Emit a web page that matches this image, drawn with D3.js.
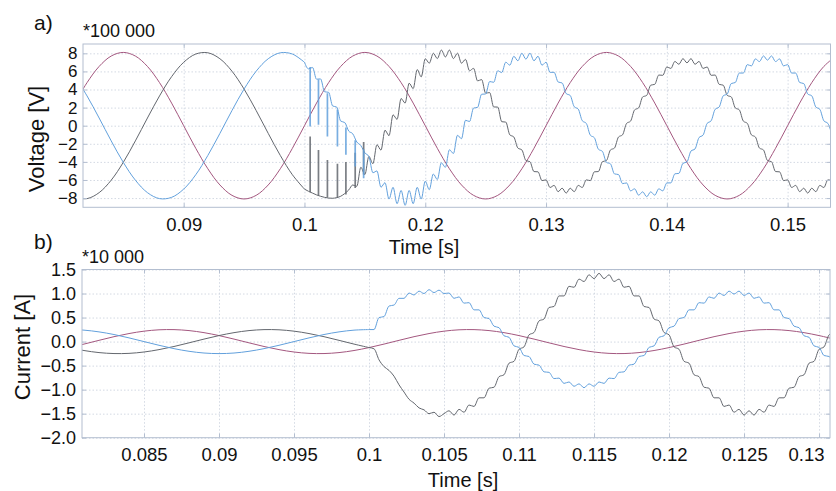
<!DOCTYPE html>
<html>
<head>
<meta charset="utf-8">
<script src="https://cdn.jsdelivr.net/npm/d3@7"></script>
<style>
body { margin: 0; background: #fff; }
svg { font-family: "Liberation Sans", Arial, sans-serif; }
</style>
</head>
<body>
<svg id="chart" width="836" height="491"></svg>
<script>
// ---- panel a) voltage, in units of 100 000 V ----
// smooth parts: sampled every 1 ms
var voltSmoothStart = 0.081, smoothStep = 0.001;
var voltMagenta = [
  2.50, 4.76, 6.55, 7.70, 8.10, 7.70, 6.55, 4.76, 2.50, 0,
  -2.50, -4.76, -6.55, -7.70, -8.10, -7.70, -6.55, -4.76, -2.50, 0,
  2.50, 4.76, 6.55, 7.70, 8.10, 7.70, 6.55, 4.76, 2.50, 0,
  -2.50, -4.76, -6.55, -7.70, -8.10, -7.70, -6.55, -4.76, -2.50, 0,
  2.50, 4.76, 6.55, 7.70, 8.10, 7.70, 6.55, 4.76, 2.50, 0,
  -2.50, -4.76, -6.55, -7.70, -8.10, -7.70, -6.55, -4.76, -2.50, 0,
  2.50, 4.76, 6.55, 7.70
];
var voltBluePre = [5.42, 3.29, 0.85, -1.68, -4.05, -6.02, -7.40, -8.06, -7.92, -7.01,
  -5.42, -3.29, -0.85, 1.68, 4.05, 6.02, 7.40, 8.06, 7.92, 7.01];
var voltGrayPre = [-7.92, -8.06, -7.40, -6.02, -4.05, -1.68, 0.85, 3.29, 5.42, 7.01,
  7.92, 8.06, 7.40, 6.02, 4.05, 1.68, -0.85, -3.29, -5.42, -7.01];

// after the event at 0.1 s: sampled every 1/3000 s
var postStart = 0.1, postStep = 1 / 3000;
var voltBluePost = [
  7.01, 6.28, 6.44, 5.14, 5.17, 3.75, 3.69, 2.18, 2.06, 0.51,
  0.35, -0.60, -0.90, -1.80, -2.20, -3.00, -3.40, -5.20, -5.00, -6.80,
  -6.30, -8.11, -6.81, -8.62, -7.16, -8.80, -7.16, -8.62, -6.81, -8.11,
  -6.13, -7.07, -5.34, -5.95, -4.10, -4.60, -2.66, -3.07, -1.06, -1.44,
  0.60, 0.46, 1.95, 2.03, 3.48, 3.50, 4.88, 4.80, 6.07, 5.88,
  7.02, 6.69, 7.67, 7.18, 8.01, 7.35, 8.01, 7.18, 7.67, 6.69,
  7.02, 5.90, 5.90, 4.83, 4.72, 3.55, 3.34, 2.10, 1.83, 0.55,
  0.25, -1.05, -1.33, -2.60, -2.84, -4.05, -4.22, -5.33, -5.40, -6.40,
  -6.33, -7.20, -6.98, -7.68, -7.31, -7.85, -7.31, -7.68, -6.98, -7.20,
  -6.33, -6.32, -5.32, -5.27, -4.16, -4.00, -2.80, -2.57, -1.31, -1.04,
  0.25, 0.54, 1.81, 2.07, 3.30, 3.50, 4.66, 4.77, 5.82, 5.82,
  6.75, 6.61, 7.38, 7.09, 7.71, 7.25, 7.71, 7.09, 7.38, 6.61,
  6.75, 5.82, 5.82, 4.77, 4.66, 3.50, 3.30, 2.07, 1.81, 0.54,
  0.25, -1.04
];
var voltGrayPost = [
  -7.01, -7.25, -7.45, -7.65, -7.80, -7.92, -8.00, -8.02, -7.95, -7.80,
  -7.50, -7.10, -6.55, -6.70, -4.60, -5.40, -3.40, -4.20, -2.10, -2.70,
  -0.50, -1.10, 1.20, 0.70, 3.00, 2.50, 4.70, 4.10, 6.20, 5.40,
  7.40, 6.91, 8.01, 7.42, 8.36, 7.60, 8.36, 7.42, 8.01, 6.91,
  7.33, 6.07, 6.34, 4.95, 5.10, 3.60, 3.66, 2.07, 2.06, 0.44,
  0.40, -1.01, -1.25, -2.47, -2.68, -3.85, -3.98, -5.07, -5.10, -6.07,
  -5.99, -6.83, -6.60, -7.29, -6.91, -7.45, -6.91, -7.29, -6.60, -6.83,
  -5.99, -6.07, -5.10, -5.07, -3.98, -3.85, -2.68, -2.47, -1.25, -1.01,
  0.25, 0.51, 1.75, 1.97, 3.18, 3.35, 4.48, 4.57, 5.60, 5.57,
  6.49, 6.33, 7.10, 6.79, 7.41, 6.95, 7.41, 6.79, 7.10, 6.33,
  6.49, 5.57, 5.60, 4.57, 4.48, 3.35, 3.18, 1.97, 1.75, 0.51,
  0.25, -1.01, -1.25, -2.47, -2.68, -3.85, -3.98, -5.07, -5.10, -6.07,
  -5.99, -6.83, -6.60, -7.29, -6.91, -7.45, -6.91, -7.29, -6.60, -6.83,
  -5.99, -6.07
];
// switching spikes right after 0.1 s
var spikeTimes = [0.10047, 0.10116, 0.10190, 0.10273, 0.10343, 0.10420, 0.10490];
var blueSpikeFrom = [6.5, 5.1, 3.6, 1.8, -0.2, -1.6, -2.6];
var blueSpikeTo = [-0.1, 0.1, -1.2, -2.3, -3.2, -4.5, -5.8];
var graySpikeFrom = [-7.35, -7.7, -7.95, -8.0, -7.6, -6.9, -5.4];
var graySpikeTo = [-1.2, -2.7, -3.8, -4.2, -4.0, -3.0, -1.8];

var voltYTicks = [-8, -6, -4, -2, 0, 2, 4, 6, 8];
var voltXTicks = [0.09, 0.10, 0.11, 0.12, 0.13, 0.14];
var voltXLabels = ["0.09", "0.1", "0.12", "0.13", "0.14", "0.15"];

// ---- panel b) current, in units of 10 000 A ----
var currSmoothStart = 0.080;
var currMagenta = [
  -0.125, -0.052, 0.026, 0.102, 0.167, 0.217, 0.245, 0.249, 0.229, 0.186,
  0.125, 0.052, -0.026, -0.102, -0.167, -0.217, -0.245, -0.249, -0.229, -0.186,
  -0.125, -0.052, 0.026, 0.102, 0.167, 0.217, 0.245, 0.249, 0.229, 0.186,
  0.125, 0.052, -0.026, -0.102, -0.167, -0.217, -0.245, -0.249, -0.229, -0.186,
  -0.125, -0.052, 0.026, 0.102, 0.167, 0.217, 0.245, 0.249, 0.229, 0.186,
  0.125, 0.052
];
var currBluePre = [0.25, 0.238, 0.202, 0.147, 0.077, 0, -0.077, -0.147, -0.202, -0.238,
  -0.25, -0.238, -0.202, -0.147, -0.077, 0, 0.077, 0.147, 0.202, 0.238, 0.25];
var currGrayPre = [-0.125, -0.186, -0.229, -0.249, -0.245, -0.217, -0.167, -0.102, -0.026, 0.052,
  0.125, 0.186, 0.229, 0.249, 0.245, 0.217, 0.167, 0.102, 0.026, -0.052, -0.125];
var currBluePost = [
  0.25, 0.25, 0.50, 0.52, 0.74, 0.76, 0.90, 0.90, 1.01, 0.97,
  1.05, 1.00, 1.08, 1.02, 1.07, 1.00, 1.01, 0.90, 0.93, 0.80,
  0.81, 0.66, 0.66, 0.50, 0.48, 0.32, 0.29, 0.12, 0.09, -0.09,
  -0.12, -0.29, -0.31, -0.47, -0.49, -0.63, -0.64, -0.77, -0.76, -0.87,
  -0.84, -0.93, -0.88, -0.96, -0.88, -0.93, -0.84, -0.87, -0.76, -0.77,
  -0.64, -0.63, -0.49, -0.47, -0.31, -0.29, -0.12, -0.09, 0.09, 0.12,
  0.29, 0.32, 0.48, 0.50, 0.66, 0.66, 0.81, 0.80, 0.93, 0.90,
  1.01, 0.96, 1.05, 0.99, 1.05, 0.96, 1.01, 0.90, 0.93, 0.80,
  0.81, 0.66, 0.66, 0.50, 0.48, 0.32, 0.29, 0.12, 0.09, -0.09,
  -0.12, -0.29, -0.31, -0.47
];
var currGrayPost = [
  -0.125, -0.15, -0.38, -0.52, -0.60, -0.72, -0.90, -1.05, -1.20, -1.28,
  -1.38, -1.42, -1.50, -1.47, -1.56, -1.50, -1.44, -1.53, -1.41, -1.47,
  -1.32, -1.35, -1.17, -1.17, -0.97, -0.95, -0.73, -0.69, -0.45, -0.41,
  -0.16, -0.11, 0.14, 0.19, 0.43, 0.47, 0.71, 0.73, 0.95, 0.95,
  1.15, 1.13, 1.30, 1.25, 1.39, 1.31, 1.42, 1.31, 1.39, 1.25,
  1.30, 1.13, 1.15, 0.95, 0.95, 0.73, 0.71, 0.47, 0.43, 0.19,
  0.14, -0.11, -0.16, -0.41, -0.45, -0.69, -0.73, -0.95, -0.97, -1.17,
  -1.17, -1.35, -1.32, -1.47, -1.41, -1.53, -1.44, -1.53, -1.41, -1.47,
  -1.32, -1.35, -1.17, -1.17, -0.97, -0.95, -0.73, -0.69, -0.45, -0.41,
  -0.16, -0.11, 0.14, 0.19
];

var currYTicks = [-2, -1.5, -1, -0.5, 0, 0.5, 1, 1.5];
var currXTicks = [0.085, 0.09, 0.095, 0.1, 0.105, 0.11, 0.115, 0.12, 0.125, 0.13];
var currXLabels = ["0.085", "0.09", "0.095", "0.1", "0.105", "0.11", "0.115", "0.12", "0.125", "0.13"];

var colMagenta = "#a3577f", colBlue = "#62a0dc", colGray = "#63676e";
var frameColor = "#b3bed0", gridColor = "#d3d9e3";

var svg = d3.select("#chart");

function points(start, step, values) {
    return values.map(function(v, i) { return {t: start + i * step, v: v}; });
}

function drawPanel(p) {
    var xs = d3.scaleLinear().domain(p.xDomain).range([p.left, p.right]);
    var ys = d3.scaleLinear().domain(p.yDomain).range([p.bottom, p.top]);
    var w = p.right - p.left, h = p.bottom - p.top;
    var g = svg.append("g");

    // dotted grid
    var grid = g.append("g");
    grid.append("g")
        .attr("transform", "translate(0," + p.bottom + ")")
        .call(d3.axisBottom(xs).tickValues(p.xTicks).tickSize(-h).tickFormat(""));
    grid.append("g")
        .attr("transform", "translate(" + p.left + ",0)")
        .call(d3.axisLeft(ys).tickValues(p.yTicks).tickSize(-w).tickFormat(""));
    grid.selectAll(".domain").remove();
    grid.selectAll("line").attr("stroke", gridColor).attr("stroke-dasharray", "1.5,2");

    svg.append("clipPath").attr("id", p.id)
        .append("rect").attr("x", p.left).attr("y", p.top).attr("width", w).attr("height", h);
    var plot = g.append("g").attr("clip-path", "url(#" + p.id + ")");

    var line = d3.line().x(function(d) { return xs(d.t); }).y(function(d) { return ys(d.v); });

    p.series.forEach(function(s) {
        plot.append("path")
            .datum(points(s.start, s.step, s.values))
            .attr("fill", "none")
            .attr("stroke", s.color)
            .attr("stroke-width", 1)
            .attr("d", line.curve(s.curve));
    });

    (p.spikes || []).forEach(function(sp) {
        plot.selectAll(null)
            .data(sp.times)
            .enter()
            .append("line")
            .attr("x1", function(d) { return xs(d); })
            .attr("x2", function(d) { return xs(d); })
            .attr("y1", function(d, i) { return ys(sp.from[i]); })
            .attr("y2", function(d, i) { return ys(sp.to[i]); })
            .attr("stroke", sp.color)
            .attr("stroke-opacity", 0.85)
            .attr("stroke-width", 1.7);
    });

    // frame and small inner ticks
    g.append("rect")
        .attr("x", p.left).attr("y", p.top).attr("width", w).attr("height", h)
        .attr("fill", "none").attr("stroke", frameColor);
    var ticks = g.append("g");
    ticks.append("g").attr("transform", "translate(0," + p.top + ")")
        .call(d3.axisTop(xs).tickValues(p.xTicks).tickSize(-4).tickFormat(""));
    ticks.append("g").attr("transform", "translate(0," + p.bottom + ")")
        .call(d3.axisBottom(xs).tickValues(p.xTicks).tickSize(-4).tickFormat(""));
    ticks.append("g").attr("transform", "translate(" + p.left + ",0)")
        .call(d3.axisLeft(ys).tickValues(p.yTicks).tickSize(-4).tickFormat(""));
    ticks.append("g").attr("transform", "translate(" + p.right + ",0)")
        .call(d3.axisRight(ys).tickValues(p.yTicks).tickSize(-4).tickFormat(""));
    ticks.selectAll(".domain").remove();
    ticks.selectAll("line").attr("stroke", frameColor);

    // tick labels
    var xAxis = g.append("g")
        .attr("transform", "translate(0," + p.bottom + ")")
        .call(d3.axisBottom(xs).tickValues(p.xTicks).tickSize(0).tickPadding(p.xPad)
            .tickFormat(function(d, i) { return p.xLabels[i]; }));
    var yAxis = g.append("g")
        .attr("transform", "translate(" + p.left + ",0)")
        .call(d3.axisLeft(ys).tickValues(p.yTicks).tickSize(0).tickPadding(p.yPad)
            .tickFormat(p.yFormat));
    xAxis.select(".domain").remove();
    yAxis.select(".domain").remove();
    xAxis.selectAll("text").style("font-size", p.xFont + "px").style("font-family", "Liberation Sans, Arial, sans-serif").attr("fill", "#111");
    yAxis.selectAll("text").style("font-size", p.yFont + "px").style("font-family", "Liberation Sans, Arial, sans-serif").attr("fill", "#111");
    // keep a label that sits on the right border inside the page
    xAxis.selectAll("text").filter(function(d) { return xs(d) > 815; })
        .attr("text-anchor", "end").attr("dx", (835 - p.right) + "px");

    // titles
    g.append("text").attr("x", 34).attr("y", p.tagY)
        .style("font-size", "21px").attr("fill", "#111").text(p.tag);
    g.append("text").attr("x", p.left).attr("y", p.scaleY)
        .style("font-size", "18px").attr("fill", "#111").text(p.scaleText);
    g.append("text")
        .attr("transform", "translate(" + p.yLabelX + "," + p.yLabelY + ") rotate(-90)")
        .attr("text-anchor", "middle")
        .style("font-size", "22px").attr("fill", "#111").text(p.yLabel);
    g.append("text").attr("x", p.xLabelX).attr("y", p.xLabelY)
        .attr("text-anchor", "middle")
        .style("font-size", "20px").attr("fill", "#111").text("Time [s]");
}

drawPanel({
    id: "clipA",
    left: 83, right: 830.5, top: 44, bottom: 207.3,
    xDomain: [0.081665, 0.14355], yDomain: [-9.02, 9.03],
    xTicks: voltXTicks, xLabels: voltXLabels, yTicks: voltYTicks,
    yFormat: d3.format("d"),
    xPad: 11, yPad: 5.5, xFont: 18.5, yFont: 17,
    tag: "a)", tagY: 30, scaleText: "*100 000", scaleY: 36.5,
    yLabel: "Voltage [V]", yLabelX: 44, yLabelY: 139,
    xLabelX: 424, xLabelY: 253.5,
    series: [
        {start: voltSmoothStart, step: smoothStep, values: voltMagenta, color: colMagenta, curve: d3.curveCatmullRom},
        {start: voltSmoothStart, step: smoothStep, values: voltGrayPre, color: colGray, curve: d3.curveCatmullRom},
        {start: voltSmoothStart, step: smoothStep, values: voltBluePre, color: colBlue, curve: d3.curveCatmullRom},
        {start: postStart, step: postStep, values: voltGrayPost, color: colGray, curve: d3.curveMonotoneX},
        {start: postStart, step: postStep, values: voltBluePost, color: colBlue, curve: d3.curveMonotoneX}
    ],
    spikes: [
        {times: spikeTimes, from: graySpikeFrom, to: graySpikeTo, color: colGray},
        {times: spikeTimes, from: blueSpikeFrom, to: blueSpikeTo, color: colBlue}
    ]
});

drawPanel({
    id: "clipB",
    left: 82, right: 830, top: 269.5, bottom: 437.7,
    xDomain: [0.080867, 0.13073], yDomain: [-2, 1.5],
    xTicks: currXTicks, xLabels: currXLabels, yTicks: currYTicks,
    yFormat: d3.format(".1f"),
    xPad: 10.5, yPad: 6, xFont: 18.5, yFont: 18,
    tag: "b)", tagY: 249, scaleText: "*10 000", scaleY: 263,
    yLabel: "Current [A]", yLabelX: 29.5, yLabelY: 347,
    xLabelX: 463, xLabelY: 487,
    series: [
        {start: currSmoothStart, step: smoothStep, values: currMagenta, color: colMagenta, curve: d3.curveCatmullRom},
        {start: currSmoothStart, step: smoothStep, values: currGrayPre, color: colGray, curve: d3.curveCatmullRom},
        {start: currSmoothStart, step: smoothStep, values: currBluePre, color: colBlue, curve: d3.curveCatmullRom},
        {start: postStart, step: postStep, values: currGrayPost, color: colGray, curve: d3.curveMonotoneX},
        {start: postStart, step: postStep, values: currBluePost, color: colBlue, curve: d3.curveMonotoneX}
    ]
});
</script>
</body>
</html>
